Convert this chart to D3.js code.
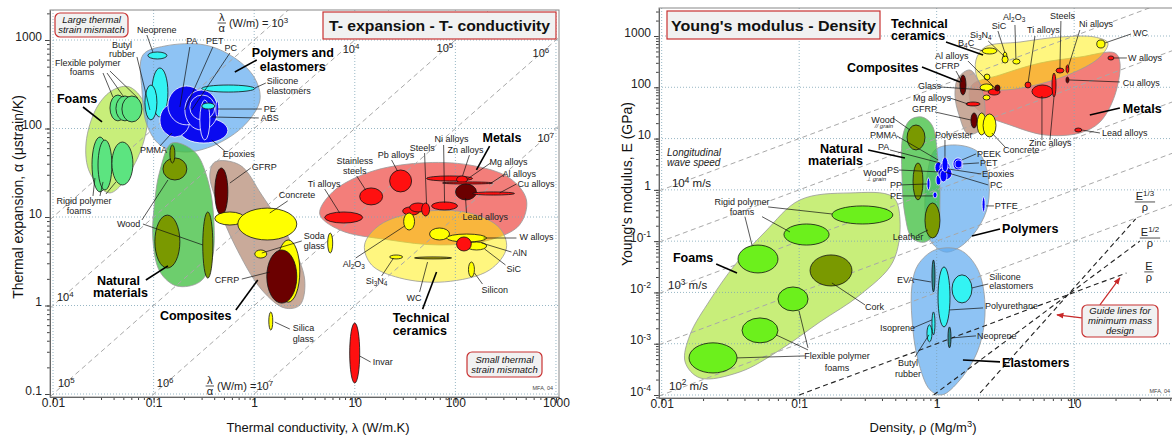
<!DOCTYPE html>
<html>
<head>
<meta charset="utf-8">
<script src="https://cdn.jsdelivr.net/npm/d3@7"></script>
<style>
  body { margin: 0; background: #fff; }
  text { font-family: "Liberation Sans", Arial, sans-serif; }
</style>
</head>
<body>
<svg id="chart" width="1172" height="439"></svg>
<script>
// ================= data: thermal expansion vs thermal conductivity =================
var teXDecades = [0.01, 0.1, 1, 10, 100, 1000];
var teXLabels = ["0.01", "0.1", "1", "10", "100", "1000"];
var teYDecades = [0.1, 1, 10, 100, 1000];
var teYLabels = ["0.1", "1", "10", "100", "1000"];
var teRatios = [1e3, 1e4, 1e5, 1e6, 1e7];   // lambda/alpha guide lines, W/m

// family envelopes: [family, [[lambda, alpha], ...]]
var teEnvelopes = [
  ["foam", [[0.058,294],[0.0857,162],[0.070,47.6],[0.0368,18.7],[0.0233,31.4],[0.0213,68.5],[0.0274,175],[0.0394,272]]],
  ["poly", [[0.0783,678],[0.129,855],[0.323,879],[0.641,626],[1.01,372],[1.14,210],[0.807,110],[0.406,65.1],[0.205,54.2],[0.116,65.1],[0.0857,110],[0.0766,272]]],
  ["nat", [[0.152,68.5],[0.257,54.2],[0.346,26.2],[0.397,9.25],[0.379,3.27],[0.288,1.85],[0.170,1.66],[0.116,2.39],[0.0984,5.50],[0.103,15.6],[0.116,34.0]]],
  ["comp", [[0.406,41.8],[0.719,38.7],[1.19,17.7],[2.26,5.50],[3.18,1.94],[2.84,1.01],[2.01,0.937],[1.19,1.50],[0.641,4.83],[0.436,13.7],[0.362,29.8]]],
  ["metal", [[4.48,10.8],[6.03,19.2],[14.1,32.2],[44.1,40.7],[138,38.7],[345,27.6],[509,15.6],[434,8.13],[219,5.50],[69.7,4.83],[22.2,5.50],[7.08,7.13]]],
  ["cer", [[12.5,4.83],[17.7,8.13],[44.1,11.4],[138,11.1],[275,7.52],[322,4.47],[219,2.52],[78.2,1.85],[27.9,2.05],[14.7,2.87]]]
];

// material bubbles: [name, family, lambda min, lambda max, alpha min, alpha max]
var teBubbles = [
  ["Flexible polymer foams","foam",0.0368,0.0530,122,239],
  ["Flexible polymer foams","foam",0.0422,0.0638,122,233],
  ["Flexible polymer foams","foam",0.0484,0.0765,118.6,233],
  ["Rigid polymer foams","foam",0.0244,0.0352,19.2,80.1],
  ["Rigid polymer foams","foam",0.0280,0.0385,20.2,74.1],
  ["Rigid polymer foams","foam",0.0385,0.0623,23.0,70.3],
  ["Neoprene","elast",0.0877,0.1356,610,732],
  ["Butyl rubber","elast",0.0961,0.1387,135,483],
  ["Butyl rubber","elast",0.0819,0.1079,125,310],
  ["Silicone elastomers","elast",0.301,1.013,258,310],
  ["Epoxies","polyDark",0.1824,0.547,68.5,132],
  ["PMMA","polyDark",0.1156,0.229,80.1,194],
  ["PA","polyDark",0.1387,0.323,110,302],
  ["PC","polyDark",0.2045,0.435,96.2,272],
  ["PET","polyDark",0.229,0.406,125,239],
  ["ABS","polyDark",0.288,0.362,74.1,210],
  ["PE","polyDark",0.415,0.445,135,204.6],
  ["PE","elast",0.301,0.406,166,194],
  ["Wood","nat",0.1238,0.214,26.2,46.5],
  ["Wood","nat",0.1452,0.1628,40.8,65.1],
  ["Wood","nat",0.1029,0.1824,2.65,10.5],
  ["Wood","nat",0.308,0.388,2.04,11.4],
  ["GFRP","comp",0.406,0.547,10.5,35.8],
  ["Concrete","cer",0.406,0.806,8.12,11.4],
  ["Concrete","cer",0.687,2.65,5.50,12.6],
  ["Glass","cer",1.676,2.84,1.09,5.50],
  ["CFRP","comp",1.334,2.65,1.064,4.24],
  ["Glass","cer",1.013,1.334,3.44,4.24],
  ["Soda glass","cer",5.38,6.03,3.92,6.59],
  ["Silica glass","cer",1.397,1.530,0.528,0.844],
  ["Ti alloys","metal",5.02,11.98,8.55,11.4],
  ["Stainless steels","metal",11.19,18.9,13.7,21.3],
  ["Pb alloys","metal",22.2,36.7,19.2,34.0],
  ["Steels","metal",29.9,44.1,10.5,13.0],
  ["Steels","metal",35.1,51.7,11.4,14.4],
  ["Steels","metal",46.2,55.4,10.27,14.4],
  ["Ni alloys","metal",58.0,105,12.0,14.8],
  ["Zn alloys","metal",51.7,148,25.5,29.1],
  ["Mg alloys","metal",102.7,131.8,24.2,29.1],
  ["Al alloys","metal",74.6,234,23.6,24.9],
  ["Lead alloys","metalDark",100.4,162,15.6,23.6],
  ["Cu alloys","metal",148,387,17.7,19.2],
  ["Invar","metal",8.90,11.19,0.133,0.633],
  ["AlN","cer",55.4,87.5,5.50,7.51],
  ["W alloys","cer",81.7,204.5,5.22,6.42],
  ["SiC","cer",128.9,204.5,4.24,5.22],
  ["W alloys","metal",102.7,144,4.13,5.95],
  ["Al2O3","cer",30.6,39.3,7.13,11.1],
  ["Si3N4","cer",22.2,29.9,3.36,3.72],
  ["WC","cerDark",39.3,91.6,3.36,3.54],
  ["Silicon","cer",134.9,154.7,2.10,3.10]
];

// labels: [text, lambda, alpha, kind, anchor]
var teLabels = [
  ["Neoprene",0.1077,1199,"s","middle"], ["Butyl",0.0484,820,"s","middle"], ["rubber",0.0484,640,"s","middle"],
  ["PA",0.240,901,"s","middle"], ["PET",0.406,901,"s","middle"], ["PC",0.586,751,"s","middle"],
  ["Polymers and",2.42,643,"b","middle"], ["elastomers",2.42,446,"b","middle"],
  ["Silicone",1.334,315,"s","start"], ["elastomers",1.334,245,"s","start"],
  ["PE",1.246,153.8,"s","start"], ["ABS",1.163,121.8,"s","start"], ["Epoxies",0.487,47.6,"s","start"],
  ["PMMA",0.0731,52.8,"s","start"], ["Flexible polymer",0.0222,515,"s","middle"], ["foams",0.0194,400,"s","middle"],
  ["Foams",0.01094,194.2,"b","start"], ["Rigid polymer",0.02031,14.0,"s","middle"], ["foams",0.01813,10.8,"s","middle"],
  ["Wood",0.0432,7.71,"s","start"], ["Natural",0.0273,1.703,"b","start"], ["materials",0.02496,1.25,"b","start"],
  ["GFRP",0.946,34.0,"s","start"], ["Concrete",1.755,16.4,"s","start"], ["Soda",3.11,5.60,"s","start"],
  ["glass",3.11,4.35,"s","start"], ["CFRP",0.406,1.794,"s","start"], ["Composites",0.1156,0.685,"b","start"],
  ["Silica",2.42,0.510,"s","start"], ["glass",2.42,0.387,"s","start"], ["Invar",15.06,0.2125,"s","start"],
  ["Ti alloys",3.41,21.8,"s","start"], ["Stainless",9.98,39.5,"s","middle"], ["steels",9.98,30.5,"s","middle"],
  ["Pb alloys",16.87,46.3,"s","start"], ["Steels",35.1,55.6,"s","start"], ["Ni alloys",62.1,70.3,"s","start"],
  ["Zn alloys",83.6,52.8,"s","start"], ["Metals",186,70.3,"b","start"], ["Mg alloys",219,38.7,"s","start"],
  ["Al alloys",294.5,28.3,"s","start"], ["Cu alloys",414,21.8,"s","start"], ["Lead alloys",117.8,9.25,"s","start"],
  ["W alloys",434,5.50,"s","start"], ["AlN",369.5,3.63,"s","start"], ["SiC",322.6,2.39,"s","start"],
  ["Silicon",182,1.387,"s","start"], ["Al_{2}O_{3}",7.58,2.725,"s","start"], ["Si_{3}N_{4}",12.83,1.748,"s","start"],
  ["WC",32.7,1.12,"s","start"], ["Technical",23.8,0.650,"b","start"], ["ceramics",23.8,0.4636,"b","start"],
  ["10^{4}",0.01094,1.12,"g","start"], ["10^{5}",0.0112,0.120,"g","start"], ["10^{6}",0.1077,0.120,"g","start"],
  ["10^{4}",7.58,713,"g","start"], ["10^{5}",65.0,732,"g","start"], ["10^{6}",585,643,"g","start"], ["10^{7}",655,70.3,"g","start"]
];

// leader lines: [lambda1, alpha1, lambda2, alpha2]
var teLeaders = [
  [0.0857,1139,0.0983,732], [0.0683,643,0.0918,162], [0.229,833,0.1824,175], [0.388,833,0.2045,162],
  [0.573,713,0.240,162], [1.304,326.5,1.013,286.5], [1.190,166,0.434,166], [1.110,131.5,0.379,135],
  [0.510,55.6,0.379,74.1], [0.1156,63.4,0.152,89.0], [0.0314,423.6,0.0394,226.7], [0.0344,423.6,0.0506,226.7],
  [0.0368,446,0.0698,220.8], [0.02496,17.28,0.0261,27.6], [0.0293,17.28,0.0314,24.9], [0.0336,18.2,0.0422,24.9],
  [0.0765,9.25,0.1387,26.2], [0.0783,8.33,0.308,4.83], [0.925,35.8,0.573,24.2], [2.154,15.2,1.429,11.1],
  [2.97,5.36,1.190,3.92], [0.753,1.99,1.429,2.39], [2.26,0.542,1.602,0.650], [14.38,0.2297,11.19,0.2686],
  [5.02,20.7,7.08,11.1], [10.44,29.1,12.83,20.2], [23.2,44.1,26.6,33.1], [49.4,52.8,51.7,14.05],
  [76.4,65.1,78.1,14.4], [138,50.1,117.8,29.1], [224,40.8,131.8,26.9], [301,29.85,219,23.6],
  [404.7,23.6,275,18.7], [129,11.1,126.2,16.4], [404.7,5.79,190.6,5.79], [361,4.02,182,5.09],
  [315,2.87,195,4.35], [186,1.748,154.7,2.33], [10.21,3.44,31.3,7.91], [18.5,2.156,24.3,3.44],
  [44.1,1.424,52.9,3.10]
];
var teFamilyLeaders = [
  [1.060,594,0.642,435], [0.01986,175,0.0307,118.7], [0.0838,1.94,0.1387,2.80],
  [0.657,0.889,1.085,1.94], [219,63.4,162,34.0], [47.2,0.910,65.0,2.39]
];
// fraction labels: [lambda, alpha, numerator, denominator, rest]
var teFracs = [
  [0.476,1556,"λ","α","(W/m) = 10^{3}"],
  [0.362,0.1232,"λ","α","(W/m) =10^{7}"]
];

// ================= data: Young's modulus vs density =================
var ymXDecades = [0.01, 0.1, 1, 10];
var ymXLabels = ["0.01", "0.1", "1", "10"];
var ymYDecades = [1e-4, 1e-3, 1e-2, 1e-1, 1, 10, 100, 1000];
var ymYLabels = ["10^{-4}", "10^{-3}", "10^{-2}", "10^{-1}", "1", "10", "100", "1000"];
var ymSpeedRatios = [100, 10, 1, 0.1, 0.01];   // E/rho, GPa per Mg/m3 (wave speed lines)
var ymGuidePivot = [9, 0.009];                 // rho, E where the mass guide lines meet
var ymGuides = [[1, 0.1, 24], [2, 0.95, 30], [3, 2.07, 28]];   // [power n of rho, rho from, rho to]

var ymEnvelopes = [
  ["foam", [[0.0148,0.000442],[0.01606,0.00149],[0.0225,0.00714],[0.0341,0.0344],[0.0564,0.151],[0.1013,0.636],[0.234,0.871],[0.48,0.727],[0.541,0.259],[0.48,0.0393],[0.277,0.00895],[0.1416,0.00266],[0.0725,0.000757],[0.0371,0.000282],[0.0190,0.000215]]],
  ["poly", [[0.972,6.00],[1.359,7.51],[2.00,5.48],[2.36,1.95],[2.36,0.508],[2.00,0.181],[1.477,0.077],[1.149,0.0615],[0.894,0.105],[0.822,0.406],[0.865,2.44]]],
  ["elast", [[0.731,0.0344],[0.972,0.0673],[1.477,0.0673],[2.00,0.0275],[2.25,0.00456],[2.00,0.000757],[1.477,0.000197],[1.093,0.0001007],[0.894,0.000126],[0.731,0.000483],[0.662,0.00291],[0.662,0.0140]]],
  ["nat", [[0.569,11.75],[0.640,23.0],[0.782,26.3],[0.924,18.4],[1.022,3.83],[1.057,0.636],[1.006,0.165],[0.822,0.096],[0.662,0.115],[0.588,0.325],[0.559,1.95]]],
  ["metal", [[1.806,111],[2.89,174],[5.64,297],[11.0,389],[19.8,467],[21.5,311],[19.8,70.7],[15.4,21.0],[11.0,12.85],[6.13,11.75],[3.41,18.4],[2.25,28.9],[1.746,56.5]]],
  ["cer", [[1.931,340],[2.25,611],[4.04,764],[7.88,956],[14.1,956],[17.6,731],[15.4,389],[10.1,198],[5.64,116],[3.14,88.5],[2.25,96.8],[1.97,152]]],
  ["comp", [[1.430,152],[1.746,217],[2.07,111],[2.25,36.1],[2.07,14.7],[1.689,12.28],[1.454,28.9],[1.359,70.7]]]
];

// [name, family, rho min, rho max, E min, E max]
var ymBubbles = [
  ["Rigid polymer foams","foam2",0.173,0.48,0.216,0.486],
  ["Rigid polymer foams","foam2",0.0775,0.165,0.0839,0.216],
  ["Rigid polymer foams","foam2",0.0359,0.0701,0.0240,0.0839],
  ["Cork","nat",0.120,0.242,0.01337,0.0538],
  ["Flexible polymer foams","foam2",0.0701,0.116,0.00436,0.01278],
  ["Flexible polymer foams","foam2",0.0384,0.0701,0.00104,0.00318],
  ["Flexible polymer foams","foam2",0.0158,0.0353,0.000269,0.00104],
  ["Wood // grain","nat",0.609,0.822,6.00,18.4],
  ["Wood ⊥ grain","nat",0.673,0.795,0.636,3.35],
  ["Leather","nat",0.822,1.057,0.115,0.556],
  ["PP","poly",0.850,0.894,0.996,1.704],
  ["PE","poly",0.940,1.006,0.696,0.910],
  ["PTFE","poly",2.14,2.25,0.371,0.7275],
  ["PS","poly",0.989,1.075,1.247,1.95],
  ["PMMA","poly",0.972,1.093,2.13,3.50],
  ["PA","poly",1.057,1.250,2.23,3.50],
  ["Epoxies","poly",1.023,1.293,1.56,2.80],
  ["PC","poly",1.057,1.189,1.426,2.44],
  ["Polyester","poly",1.093,1.209,2.23,4.38],
  ["PET","poly",1.314,1.552,2.44,4.19],
  ["PEEK","poly",1.359,1.527,2.67,3.83],
  ["EVA","elastDark",0.924,0.972,0.01024,0.0430],
  ["Polyurethane","elast",1.023,1.250,0.002126,0.0314],
  ["Silicone elastomers","elast",1.293,1.806,0.00624,0.02198],
  ["Isoprene","elast",0.924,0.972,0.001487,0.004168],
  ["Butyl rubber","elast",0.850,0.924,0.001088,0.002326],
  ["Neoprene","elastDark",1.209,1.271,0.000831,0.002126],
  ["CFRP","comp",1.477,1.634,70.7,174],
  ["GFRP","comp",1.776,1.97,16.1,31.6],
  ["Concrete","cer",1.97,2.29,11.75,31.6],
  ["Concrete","cer",2.176,2.70,10.74,30.2],
  ["Mg alloys","metal",1.634,2.07,43.2,51.6],
  ["Glass","cer",2.07,2.565,84.6,116],
  ["Glass","cer",2.176,2.44,56.5,70.7],
  ["Glass","cer",2.213,2.44,139,181.3],
  ["Al alloys","metal",2.37,2.89,70.7,92.8],
  ["Al alloys","metalDark",2.65,2.89,84.6,111],
  ["B4C","cer",2.14,2.745,446,583.8],
  ["SiC","cer",3.04,3.25,311,488],
  ["Si3N4","cer",2.99,3.31,297,408],
  ["Al2O3","cer",3.58,4.04,284,356.5],
  ["Ti alloys","metal",4.39,4.85,97.1,127],
  ["Zinc alloys","metal",4.93,7.01,61.8,111],
  ["Zinc alloys","metal",6.90,7.38,64.6,189.7],
  ["Steels","metal",7.38,8.42,189.7,237.4],
  ["Ni alloys","metal",8.72,9.16,189.7,272],
  ["Cu alloys","metalDark",8.72,9.16,121.5,158.5],
  ["WC","cer",14.6,16.74,583.8,836],
  ["W alloys","metal",17.6,19.46,340,408],
  ["Lead alloys","metal",10.1,11.37,13.44,16.06]
];

var ymLabels = [
  ["Technical",0.465,1432,"b","start"], ["ceramics",0.465,836,"b","start"], ["Composites",0.2228,198.4,"b","start"],
  ["Natural",0.291,5.24,"b","end"], ["materials",0.291,3.06,"b","end"], ["Foams",0.01208,0.0393,"b","start"],
  ["Polymers",2.99,0.144,"b","start"], ["Elastomers",2.99,0.000353,"b","start"], ["Metals",22.6,31.6,"b","start"],
  ["SiC",2.52,1369,"s","start"], ["Al_{2}O_{3}",3.04,2051,"s","start"], ["Si_{3}N_{4}",1.746,914,"s","start"],
  ["B_{4}C",1.430,638.7,"s","start"], ["Ti alloys",4.545,1144,"s","start"], ["Steels",6.67,2145,"s","start"],
  ["Ni alloys",10.84,1498,"s","start"], ["WC",26.8,1000,"s","start"], ["W alloys",24.6,325,"s","start"],
  ["Cu alloys",22.6,106.2,"s","start"], ["Lead alloys",15.92,11.23,"s","start"], ["Zinc alloys",4.70,7.17,"s","start"],
  ["Concrete",3.04,5.24,"s","start"], ["Al alloys",0.972,356.5,"s","start"], ["CFRP",0.972,227,"s","start"],
  ["Glass",0.732,92.8,"s","start"], ["Mg alloys",0.673,54.0,"s","start"], ["GFRP",0.662,33.0,"s","start"],
  ["Polyester",0.972,10.27,"s","start"], ["PEEK",1.964,4.38,"s","start"], ["PET",2.07,2.93,"s","start"],
  ["Epoxies",2.14,1.78,"s","start"], ["PC",2.44,1.089,"s","start"], ["PTFE",2.65,0.4246,"s","start"],
  ["Wood",0.407,20.1,"s","middle"], ["// grain",0.414,16.06,"t","middle"], ["PMMA",0.327,10.27,"s","start"],
  ["PA",0.374,6.00,"s","start"], ["Wood",0.355,1.864,"s","middle"], ["⊥ grain",0.362,1.49,"t","middle"],
  ["PS",0.435,2.13,"s","start"], ["PP",0.457,1.089,"s","start"], ["PE",0.457,0.665,"s","start"],
  ["Leather",0.480,0.105,"s","start"], ["EVA",0.514,0.0153,"s","start"], ["Silicone",2.41,0.0175,"s","start"],
  ["elastomers",2.41,0.0117,"s","start"], ["Polyurethane",2.25,0.004766,"s","start"], ["Isoprene",0.387,0.001778,"s","start"],
  ["Neoprene",1.964,0.001242,"s","start"], ["Butyl",0.619,0.000365,"s","middle"], ["rubber",0.619,0.000225,"s","middle"],
  ["Rigid polymer",0.0384,0.50,"s","middle"], ["foams",0.0384,0.324,"s","middle"], ["Cork",0.301,0.00456,"s","start"],
  ["Flexible polymer",0.1884,0.000495,"s","middle"], ["foams",0.1884,0.000294,"s","middle"],
  ["Longitudinal",0.01094,4.58,"i","start"], ["wave speed",0.01094,2.93,"i","start"],
  ["10^{4} m/s",0.01188,1.14,"m","start"], ["10^{3} m/s",0.01112,0.01168,"m","start"], ["10^{2} m/s",0.0113,0.000126,"m","start"]
];

var ymLeaders = [
  [2.79,1252,3.14,467], [3.71,1639,3.77,356.5], [2.37,799,3.14,390], [1.746,610.7,2.176,510.6],
  [5.185,1000,4.62,121.5], [8.01,1961,7.88,227], [11.0,1309,9.01,237.4], [25.9,1094,16.74,731],
  [24.19,373,19.46,373], [21.5,127,9.16,139], [15.4,12.85,11.37,14.7], [5.83,9.39,5.83,67.6],
  [6.67,9.39,7.13,64.6], [3.14,6.86,2.52,12.85], [1.689,325,2.65,97.1], [1.3825,207.5,1.527,127],
  [1.057,101.5,2.25,88.5], [1.250,61.8,1.689,47.2], [0.972,33.0,1.776,23.0], [1.149,9.39,1.149,4.19],
  [1.931,5.01,1.527,3.83], [2.03,3.35,1.552,3.20], [2.105,2.04,1.209,2.557], [2.37,1.247,1.149,2.23],
  [2.61,0.486,2.29,0.486], [0.480,25.2,0.640,14.7], [0.514,11.23,1.023,3.83], [0.457,6.00,1.057,3.35],
  [0.531,2.44,1.057,2.23], [0.550,1.247,0.850,1.303], [0.550,0.761,0.940,0.761], [0.731,0.132,0.865,0.165],
  [0.673,0.01836,0.909,0.016], [2.37,0.01462,1.806,0.01222], [2.176,0.004986,1.250,0.00456],
  [0.673,0.002032,0.924,0.00291], [1.931,0.001421,1.293,0.001299], [0.696,0.000553,0.879,0.001487],
  [0.0594,0.4646,0.173,0.339], [0.0403,0.300,0.0454,0.0839], [0.0537,0.300,0.0857,0.151],
  [0.301,0.00571,0.173,0.0153], [0.1101,0.000578,0.0353,0.000529], [0.1159,0.000757,0.0679,0.001487],
  [0.1159,0.000831,0.0997,0.00436]
];
var ymFamilyLeaders = [
  [1.169,764,2.176,427], [0.782,248.4,1.477,127], [0.317,6.00,0.588,4.19], [0.0249,0.0359,0.0353,0.0240],
  [2.89,0.173,1.806,0.126], [2.89,0.000442,1.552,0.000483], [21.5,39.5,13.0,28.9]
];
var ymFracs = [
  [35.0,0.02514,"E","ρ",""], [35.6,0.115,"E^{1/2}","ρ",""], [32.7,0.581,"E^{1/3}","ρ",""]
];
var ymArrows = [[15.4,0.00571,21.5,0.0192], [11.37,0.003184,7.50,0.003645]];

// ================= styles =================
var envFill = {foam:"#c8ee7a", poly:"#5eaaf0", elast:"#5eaaf0", nat:"#44c044", comp:"#bf9b88", metal:"#ef5a55", cer:"#ffee00"};
var envAlpha = {foam:1, poly:0.7, elast:0.7, nat:0.78, comp:0.85, metal:0.78, cer:0.5};
var bubFill = {foam:"#5ce480", foam2:"#6cf01c", poly:"#0000ff", polyDark:"#0a0af0", elast:"#33f3f3",
  elastDark:"#2a8c8c", nat:"#7a9900", comp:"#6b0000", metal:"#ff1010", metalDark:"#6b0000", cer:"#ffff00", cerDark:"#b8b000"};
var kindStyle = {
  s: {size: 9, weight: "normal", style: "normal"},
  b: {size: 12.5, weight: "bold", style: "normal"},
  i: {size: 10, weight: "normal", style: "italic"},
  t: {size: 6, weight: "normal", style: "italic"},
  g: {size: 11, weight: "normal", style: "normal"},
  m: {size: 11.5, weight: "normal", style: "normal"}
};

var svg = d3.select("#chart");
var defs = svg.append("defs");
defs.append("marker").attr("id", "redArrow")
  .attr("viewBox", "0 0 10 10").attr("refX", 9).attr("refY", 5)
  .attr("markerWidth", 6).attr("markerHeight", 6).attr("orient", "auto")
  .append("path").attr("d", "M0,1L10,5L0,9z").attr("fill", "#c82828");

function logTicks(dom) {
  var out = [];
  var k0 = Math.floor(Math.log10(dom[0])), k1 = Math.ceil(Math.log10(dom[1]));
  for (var k = k0; k <= k1; k++)
    for (var m = 1; m <= 9; m++) {
      var v = m * Math.pow(10, k);
      if (v >= dom[0] && v <= dom[1]) out.push(v);
    }
  return out;
}

// "10^{4}" / "Al_{2}O_{3}" -> tspans
function rich(sel, str, fs) {
  sel.text(null);
  var parts = str.split(/(\^\{[^}]*\}|_\{[^}]*\})/);
  var shift = 0;
  parts.forEach(function(s) {
    if (!s) return;
    var target = 0, txt = s, small = false;
    if (s[0] === "^") { target = -fs * 0.38; txt = s.slice(2, -1); small = true; }
    else if (s[0] === "_") { target = fs * 0.25; txt = s.slice(2, -1); small = true; }
    var t = sel.append("tspan").attr("dy", target - shift).text(txt);
    if (small) t.attr("font-size", fs * 0.72);
    shift = target;
  });
}

function panel(o) {
  var x = d3.scaleLog().domain(o.xDomain).range(o.xRange);
  var y = d3.scaleLog().domain(o.yDomain).range(o.yRange);
  var P = {x: x, y: y, left: o.xRange[0], right: o.xRange[1], top: o.yRange[1], bottom: o.yRange[0]};
  defs.append("clipPath").attr("id", o.id).append("rect")
    .attr("x", P.left).attr("y", P.top).attr("width", P.right - P.left).attr("height", P.bottom - P.top);
  P.g = svg.append("g");
  var plot = P.g.append("g").attr("clip-path", "url(#" + o.id + ")");
  var shape = d3.line().x(d => x(d[0])).y(d => y(d[1])).curve(d3.curveCatmullRomClosed.alpha(0.5));

  // family envelopes
  plot.selectAll("path.env").data(o.envelopes).enter().append("path")
    .attr("d", d => shape(d[1]))
    .attr("fill", d => envFill[d[0]]).attr("fill-opacity", d => envAlpha[d[0]])
    .attr("stroke", "#999").attr("stroke-width", 0.8);

  // dotted grid
  plot.selectAll("line.vg").data(o.xTicks).enter().append("line")
    .attr("x1", d => x(d)).attr("x2", d => x(d)).attr("y1", P.top).attr("y2", P.bottom)
    .attr("stroke", "#7ea4b6").attr("stroke-width", 0.8).attr("stroke-dasharray", "1,2");
  plot.selectAll("line.hg").data(o.yTicks).enter().append("line")
    .attr("y1", d => y(d)).attr("y2", d => y(d)).attr("x1", P.left).attr("x2", P.right)
    .attr("stroke", "#7ea4b6").attr("stroke-width", 0.8).attr("stroke-dasharray", "1,2");

  // guide lines
  plot.selectAll("line.guide").data(o.guides).enter().append("line")
    .attr("x1", d => x(d[0])).attr("y1", d => y(d[1])).attr("x2", d => x(d[2])).attr("y2", d => y(d[3]))
    .attr("stroke", d => d[4] ? "#222" : "#a8a8a8").attr("stroke-width", d => d[4] ? 1.1 : 1)
    .attr("stroke-dasharray", "5,3.5");

  // material bubbles
  plot.selectAll("ellipse").data(o.bubbles).enter().append("ellipse")
    .attr("cx", d => (x(d[2]) + x(d[3])) / 2).attr("cy", d => (y(d[4]) + y(d[5])) / 2)
    .attr("rx", d => Math.abs(x(d[3]) - x(d[2])) / 2).attr("ry", d => Math.abs(y(d[5]) - y(d[4])) / 2)
    .attr("fill", d => bubFill[d[1]])
    .attr("stroke", d => (d[1] === "poly" || d[1] === "polyDark") ? "#fff" : "#111")
    .attr("stroke-width", 0.8);

  // leaders
  plot.selectAll("line.lead").data(o.leaders).enter().append("line")
    .attr("x1", d => x(d[0])).attr("y1", d => y(d[1])).attr("x2", d => x(d[2])).attr("y2", d => y(d[3]))
    .attr("stroke", "#111").attr("stroke-width", 0.7);
  plot.selectAll("line.flead").data(o.familyLeaders).enter().append("line")
    .attr("x1", d => x(d[0])).attr("y1", d => y(d[1])).attr("x2", d => x(d[2])).attr("y2", d => y(d[3]))
    .attr("stroke", "#000").attr("stroke-width", 1.6);

  // labels
  o.labels.forEach(function(l) {
    var st = kindStyle[l[3]];
    var t = P.g.append("text").attr("x", x(l[1])).attr("y", y(l[2]))
      .attr("text-anchor", l[4]).attr("font-size", st.size)
      .attr("font-weight", st.weight).attr("font-style", st.style)
      .attr("fill", l[3] === "b" ? "#000" : "#222");
    rich(t, l[0], st.size);
  });

  // fractions
  o.fracs.forEach(function(f) { frac(P, f[0], f[1], f[2], f[3], f[4], 11); });

  // axes
  var minorX = d3.axisBottom(x).tickValues(logTicks(o.xDomain)).tickSize(3).tickSizeOuter(0).tickFormat("");
  var majorX = d3.axisBottom(x).tickValues(o.xTicks).tickSize(6).tickSizeOuter(0).tickPadding(4).tickFormat("");
  var minorY = d3.axisLeft(y).tickValues(logTicks(o.yDomain)).tickSize(3).tickSizeOuter(0).tickFormat("");
  var majorY = d3.axisLeft(y).tickValues(o.yTicks).tickSize(5).tickSizeOuter(0).tickPadding(3).tickFormat("");
  P.g.append("g").attr("transform", "translate(0," + P.bottom + ")").attr("color", "#444").call(minorX);
  var gx = P.g.append("g").attr("transform", "translate(0," + P.bottom + ")").attr("color", "#444").call(majorX);
  gx.attr("font-size", 12);
  gx.selectAll(".tick text").attr("fill", "#222").each(function(d, i) { rich(d3.select(this), o.xLabels[i], 12); });
  P.g.append("g").attr("transform", "translate(" + P.left + ",0)").attr("color", "#444").call(minorY);
  var gy = P.g.append("g").attr("transform", "translate(" + P.left + ",0)").attr("color", "#444").call(majorY);
  gy.attr("font-size", 12);
  gy.selectAll(".tick text").attr("fill", "#222").each(function(d, i) { rich(d3.select(this), o.yLabels[i], 12); });

  P.g.append("rect").attr("x", P.left).attr("y", P.top)
    .attr("width", P.right - P.left).attr("height", P.bottom - P.top)
    .attr("fill", "none").attr("stroke", "#888").attr("stroke-width", 1);
  return P;
}

function frac(P, xv, yv, num, den, rest, fs) {
  var cx = P.x(xv), cy = P.y(yv);
  var g = P.g.append("g").attr("font-size", fs).attr("fill", "#222");
  var tn = g.append("text").attr("x", cx).attr("y", cy - 2).attr("text-anchor", "middle");
  rich(tn, num, fs);
  var td = g.append("text").attr("x", cx).attr("y", cy + fs * 0.85).attr("text-anchor", "middle");
  rich(td, den, fs);
  var w = Math.max(tn.node().getComputedTextLength(), td.node().getComputedTextLength()) + 2;
  g.append("line").attr("x1", cx - w / 2).attr("x2", cx + w / 2).attr("y1", cy).attr("y2", cy)
    .attr("stroke", "#222").attr("stroke-width", 0.8);
  if (rest) {
    var tr = g.append("text").attr("x", cx + w / 2 + 3).attr("y", cy + fs * 0.35);
    rich(tr, rest, fs);
  }
}

function noteBox(x0, y0, w, h, lines, fs, bold, rx) {
  var g = svg.append("g");
  g.append("rect").attr("x", x0).attr("y", y0).attr("width", w).attr("height", h).attr("rx", rx)
    .attr("fill", "#f1f1f1").attr("stroke", "#c83232").attr("stroke-width", 1.2);
  lines.forEach(function(s, i) {
    var t = g.append("text").attr("x", x0 + w / 2).attr("text-anchor", "middle").attr("fill", "#111")
      .attr("font-size", fs).attr("font-weight", bold ? "bold" : "normal").attr("font-style", bold ? "normal" : "italic")
      .text(s);
    if (bold) t.attr("y", y0 + h / 2 + fs * 0.36);
    else t.attr("y", y0 + h / 2 + fs * 0.36 + (i - (lines.length - 1) / 2) * fs * 1.05);
  });
  return g;
}

// ---------- left chart ----------
var teDomX = [0.00933, 1072], teDomY = [0.0925, 2183];
var teGuides = teRatios.map(c => [teDomX[0], teDomX[0] * 1e6 / c, teDomX[1], teDomX[1] * 1e6 / c, false]);
var PL = panel({
  id: "clipL", xDomain: teDomX, yDomain: teDomY, xRange: [50, 559], yRange: [397, 10],
  xTicks: teXDecades, xLabels: teXLabels, yTicks: teYDecades, yLabels: teYLabels,
  envelopes: teEnvelopes, bubbles: teBubbles, guides: teGuides, labels: teLabels,
  leaders: teLeaders, familyLeaders: teFamilyLeaders, fracs: teFracs
});

// ---------- right chart ----------
var ymDomX = [0.00956, 64], ymDomY = [8.74e-5, 3516];
var ymLines = ymSpeedRatios.map(k => [ymDomX[0], ymDomX[0] * k, ymDomX[1], ymDomX[1] * k, false]);
ymGuides.forEach(function(g) {
  var e = r => ymGuidePivot[1] * Math.pow(r / ymGuidePivot[0], g[0]);
  ymLines.push([g[1], e(g[1]), g[2], e(g[2]), true]);
});
var PR = panel({
  id: "clipR", xDomain: ymDomX, yDomain: ymDomY, xRange: [659, 1185], yRange: [398, 8],
  xTicks: ymXDecades, xLabels: ymXLabels, yTicks: ymYDecades, yLabels: ymYLabels,
  envelopes: ymEnvelopes, bubbles: ymBubbles, guides: ymLines, labels: ymLabels,
  leaders: ymLeaders, familyLeaders: ymFamilyLeaders, fracs: ymFracs
});
PR.g.selectAll("line.arrow").data(ymArrows).enter().append("line")
  .attr("x1", d => PR.x(d[0])).attr("y1", d => PR.y(d[1])).attr("x2", d => PR.x(d[2])).attr("y2", d => PR.y(d[3]))
  .attr("stroke", "#c82828").attr("stroke-width", 1.2).attr("marker-end", "url(#redArrow)");

// ---------- boxes and titles ----------
noteBox(323, 12, 233, 27, ["T- expansion - T- conductivity"], 15.5, true, 0)
  .select("text").attr("textLength", 221).attr("lengthAdjust", "spacingAndGlyphs");
noteBox(667, 11, 213, 28, ["Young's modulus - Density"], 15.5, true, 0)
  .select("text").attr("textLength", 205).attr("lengthAdjust", "spacingAndGlyphs");
noteBox(55, 13, 73, 24, ["Large thermal", "strain mismatch"], 9.5, false, 5);
noteBox(467, 352, 75, 25, ["Small thermal", "strain mismatch"], 9.5, false, 5);
noteBox(1082, 305, 76, 32, ["Guide lines for", "minimum mass", "design"], 9.5, false, 5);

svg.append("text").attr("x", 553).attr("y", 390).attr("text-anchor", "end").attr("font-size", 5.5).attr("fill", "#444").text("MFA, 04");
svg.append("text").attr("x", 1170).attr("y", 393).attr("text-anchor", "end").attr("font-size", 5.5).attr("fill", "#444").text("MFA, 04");

// axis titles
svg.append("text").attr("transform", "translate(23,197) rotate(-90)").attr("text-anchor", "middle")
  .attr("font-size", 14).attr("fill", "#111").text("Thermal expansion, α  (μstrain/K)");
svg.append("text").attr("x", 318).attr("y", 432).attr("text-anchor", "middle")
  .attr("font-size", 13).attr("fill", "#111").text("Thermal conductivity, λ  (W/m.K)");
svg.append("text").attr("transform", "translate(632,184) rotate(-90)").attr("text-anchor", "middle")
  .attr("font-size", 14).attr("fill", "#111").text("Young's modulus, E (GPa)");
var dt = svg.append("text").attr("x", 923).attr("y", 432).attr("text-anchor", "middle")
  .attr("font-size", 13).attr("fill", "#111");
rich(dt, "Density, ρ  (Mg/m^{3})", 13);
</script>
</body>
</html>
